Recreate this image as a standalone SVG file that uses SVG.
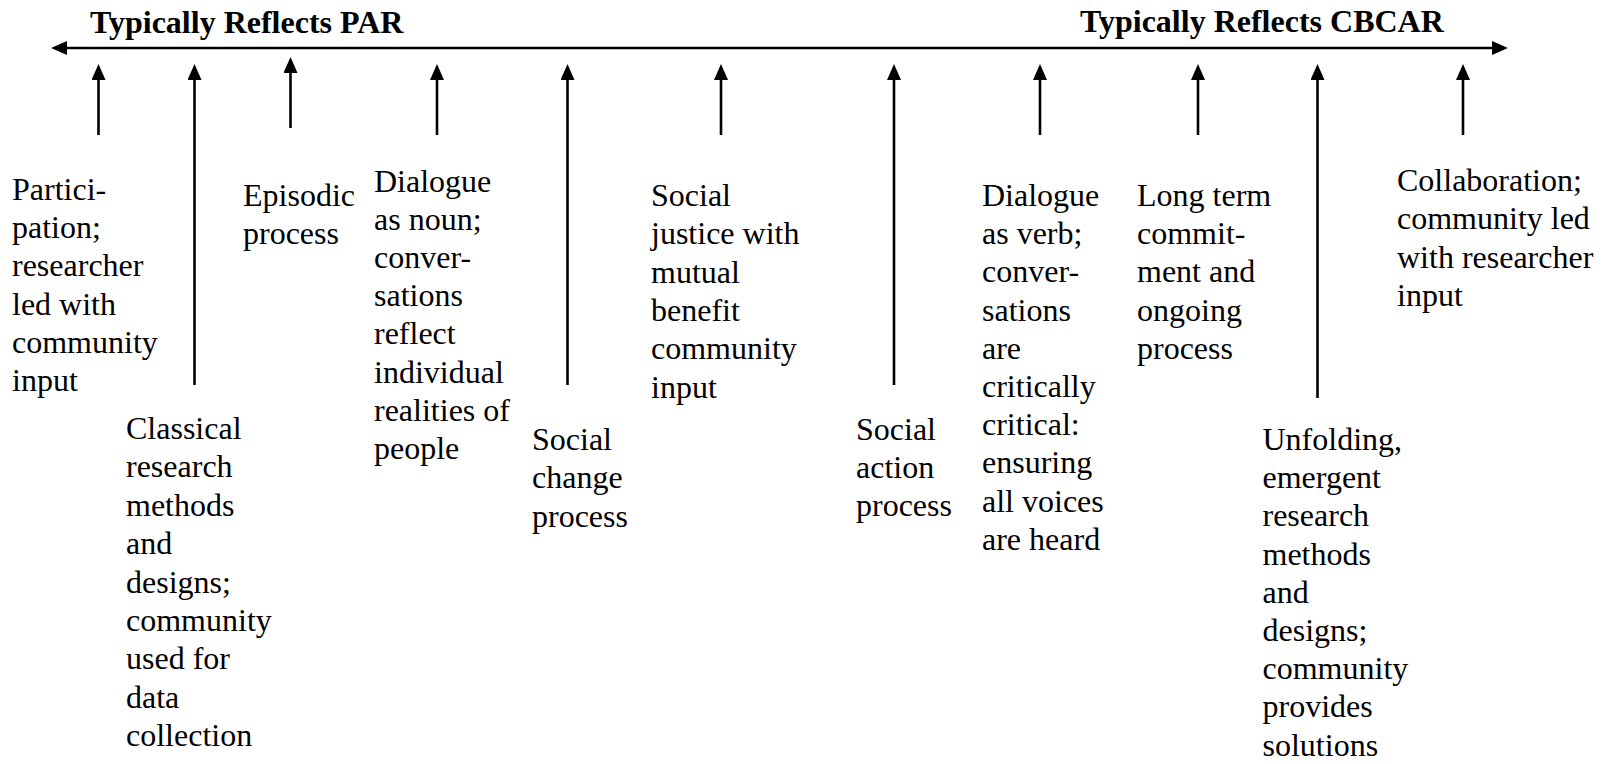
<svg xmlns="http://www.w3.org/2000/svg" width="1604" height="764" viewBox="0 0 1604 764" font-family="Liberation Serif, Times New Roman, serif">
<style>
.t{font-size:32px;fill:#000}
.h{font-size:32px;font-weight:bold;fill:#000}
.c{stroke:#000;stroke-width:2.6;fill:none}
</style>
<defs>
<marker id="ah" markerUnits="userSpaceOnUse" markerWidth="16" markerHeight="14" refX="4" refY="7" orient="auto-start-reverse">
<path d="M0,0 L16,7 L0,14 z" fill="#000"/>
</marker>
</defs>
<rect width="1604" height="764" fill="#fff"/>
<g id="connectors">
<line class="c" x1="63" y1="48" x2="1496" y2="48" marker-start="url(#ah)" marker-end="url(#ah)"/>
<line class="c" x1="98.5" y1="135" x2="98.5" y2="76" marker-end="url(#ah)"/>
<line class="c" x1="194.5" y1="385" x2="194.5" y2="76" marker-end="url(#ah)"/>
<line class="c" x1="290.5" y1="128" x2="290.5" y2="69" marker-end="url(#ah)"/>
<line class="c" x1="437" y1="135" x2="437" y2="76" marker-end="url(#ah)"/>
<line class="c" x1="567.5" y1="385" x2="567.5" y2="76" marker-end="url(#ah)"/>
<line class="c" x1="721" y1="135" x2="721" y2="76" marker-end="url(#ah)"/>
<line class="c" x1="894" y1="385" x2="894" y2="76" marker-end="url(#ah)"/>
<line class="c" x1="1040" y1="135" x2="1040" y2="76" marker-end="url(#ah)"/>
<line class="c" x1="1198" y1="135" x2="1198" y2="76" marker-end="url(#ah)"/>
<line class="c" x1="1317.5" y1="398" x2="1317.5" y2="76" marker-end="url(#ah)"/>
<line class="c" x1="1463" y1="135" x2="1463" y2="76" marker-end="url(#ah)"/>
</g>
<g id="title-par"><text class="h" x="90" y="33">Typically Reflects PAR</text></g>
<g id="title-cbcar"><text class="h" x="1080" y="32">Typically Reflects CBCAR</text></g>
<g id="n1"><text class="t" y="200"><tspan x="12">Partici-</tspan><tspan x="12" dy="38.2">pation;</tspan><tspan x="12" dy="38.2">researcher</tspan><tspan x="12" dy="38.2">led with</tspan><tspan x="12" dy="38.2">community</tspan><tspan x="12" dy="38.2">input</tspan></text></g>
<g id="n2"><text class="t" y="439"><tspan x="126">Classical</tspan><tspan x="126" dy="38.4">research</tspan><tspan x="126" dy="38.4">methods</tspan><tspan x="126" dy="38.4">and</tspan><tspan x="126" dy="38.4">designs;</tspan><tspan x="126" dy="38.4">community</tspan><tspan x="126" dy="38.4">used for</tspan><tspan x="126" dy="38.4">data</tspan><tspan x="126" dy="38.4">collection</tspan></text></g>
<g id="n3"><text class="t" y="206"><tspan x="243">Episodic</tspan><tspan x="243" dy="38">process</tspan></text></g>
<g id="n4"><text class="t" y="191.5"><tspan x="374">Dialogue</tspan><tspan x="374" dy="38.2">as noun;</tspan><tspan x="374" dy="38.2">conver-</tspan><tspan x="374" dy="38.2">sations</tspan><tspan x="374" dy="38.2">reflect</tspan><tspan x="374" dy="38.2">individual</tspan><tspan x="374" dy="38.2">realities of</tspan><tspan x="374" dy="38.2">people</tspan></text></g>
<g id="n5"><text class="t" y="450"><tspan x="532">Social</tspan><tspan x="532" dy="38.3">change</tspan><tspan x="532" dy="38.3">process</tspan></text></g>
<g id="n6"><text class="t" y="206"><tspan x="651">Social</tspan><tspan x="651" dy="38.3">justice with</tspan><tspan x="651" dy="38.3">mutual</tspan><tspan x="651" dy="38.3">benefit</tspan><tspan x="651" dy="38.3">community</tspan><tspan x="651" dy="38.3">input</tspan></text></g>
<g id="n7"><text class="t" y="439.5"><tspan x="856">Social</tspan><tspan x="856" dy="38.3">action</tspan><tspan x="856" dy="38.3">process</tspan></text></g>
<g id="n8"><text class="t" y="206"><tspan x="982">Dialogue</tspan><tspan x="982" dy="38.2">as verb;</tspan><tspan x="982" dy="38.2">conver-</tspan><tspan x="982" dy="38.2">sations</tspan><tspan x="982" dy="38.2">are</tspan><tspan x="982" dy="38.2">critically</tspan><tspan x="982" dy="38.2">critical:</tspan><tspan x="982" dy="38.2">ensuring</tspan><tspan x="982" dy="38.2">all voices</tspan><tspan x="982" dy="38.2">are heard</tspan></text></g>
<g id="n9"><text class="t" y="206"><tspan x="1137">Long term</tspan><tspan x="1137" dy="38.2">commit-</tspan><tspan x="1137" dy="38.2">ment and</tspan><tspan x="1137" dy="38.2">ongoing</tspan><tspan x="1137" dy="38.2">process</tspan></text></g>
<g id="n10"><text class="t" y="450"><tspan x="1262.5">Unfolding,</tspan><tspan x="1262.5" dy="38.2">emergent</tspan><tspan x="1262.5" dy="38.2">research</tspan><tspan x="1262.5" dy="38.2">methods</tspan><tspan x="1262.5" dy="38.2">and</tspan><tspan x="1262.5" dy="38.2">designs;</tspan><tspan x="1262.5" dy="38.2">community</tspan><tspan x="1262.5" dy="38.2">provides</tspan><tspan x="1262.5" dy="38.2">solutions</tspan></text></g>
<g id="n11"><text class="t" y="191"><tspan x="1397">Collaboration;</tspan><tspan x="1397" dy="38.3">community led</tspan><tspan x="1397" dy="38.3">with researcher</tspan><tspan x="1397" dy="38.3">input</tspan></text></g>
</svg>
